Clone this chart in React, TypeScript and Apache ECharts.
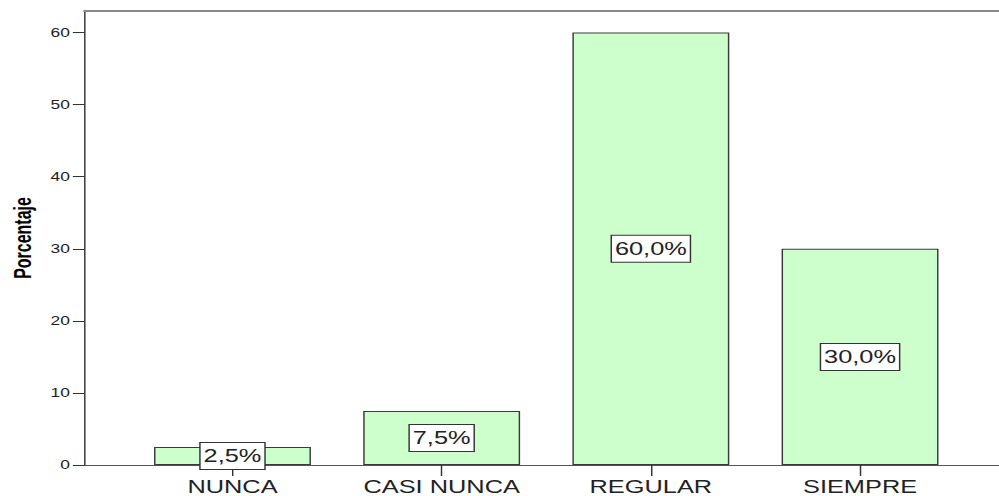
import React, { useEffect, useRef } from "react";
import * as echarts from "echarts";

const categories = ["NUNCA", "CASI NUNCA", "REGULAR", "SIEMPRE"];
const percentages = [2.5, 7.5, 60.0, 30.0];
const yTicks = [0, 10, 20, 30, 40, 50, 60];
const yMax = 63;
const yTitle = "Porcentaje";

const FULL_W = 999;
const FULL_H = 496;
const INNER_W = 689;
const STRETCH = FULL_W / INNER_W;
const FONT = "'Liberation Sans', Arial, sans-serif";

export default function App() {
  const ref = useRef<HTMLDivElement>(null);
  useEffect(() => {
    if (!ref.current) return;
    const chart = echarts.init(ref.current, null, { renderer: "svg" });
    chart.setOption({
      animation: false,
      backgroundColor: "#ffffff",
      grid: [
        { left: 56.5, right: 0, top: 11, bottom: 31, containLabel: false },
        { left: 88.2, right: 23.7, top: 11, bottom: 31, containLabel: false },
      ],
      xAxis: [
        {
          type: "value",
          gridIndex: 0,
          min: 0,
          max: 1,
          position: "bottom",
          axisLine: { show: true, lineStyle: { color: "#555", width: 1 } },
          axisTick: { show: false },
          axisLabel: { show: false },
          splitLine: { show: false },
        },
        {
          type: "value",
          gridIndex: 0,
          min: 0,
          max: 1,
          position: "top",
          axisLine: { show: true, lineStyle: { color: "#888", width: 2 } },
          axisTick: { show: false },
          axisLabel: { show: false },
          splitLine: { show: false },
        },
        {
          type: "category",
          gridIndex: 1,
          data: categories,
          position: "bottom",
          axisLine: { show: false },
          axisTick: {
            show: true,
            alignWithLabel: true,
            length: 11,
            lineStyle: { color: "#333", width: 1 },
          },
          axisLabel: {
            margin: 13,
            fontFamily: FONT,
            fontSize: 17.5,
            color: "#222",
          },
          splitLine: { show: false },
        },
      ],
      yAxis: [
        {
          type: "value",
          gridIndex: 0,
          min: 0,
          max: yMax,
          name: yTitle,
          nameLocation: "middle",
          nameGap: 31,
          nameTextStyle: {
            fontFamily: FONT,
            fontSize: 16,
            fontWeight: "bold",
            color: "#000",
          },
          axisLine: { show: true, lineStyle: { color: "#333", width: 1 } },
          axisTick: {
            show: true,
            length: 8,
            customValues: yTicks,
            lineStyle: { color: "#333", width: 1 },
          },
          axisLabel: {
            margin: 10,
            customValues: yTicks,
            fontFamily: FONT,
            fontSize: 12,
            color: "#222",
          },
          splitLine: { show: false },
        },
        {
          type: "value",
          gridIndex: 1,
          min: 0,
          max: yMax,
          show: false,
          splitLine: { show: false },
        },
      ],
      series: [
        {
          type: "bar",
          xAxisIndex: 2,
          yAxisIndex: 1,
          data: percentages,
          barWidth: "75%",
          itemStyle: {
            color: "#ccffcc",
            borderColor: "#3a3a3a",
            borderWidth: 1,
          },
          label: {
            show: true,
            position: "inside",
            formatter: (p: any) =>
              Number(p.value).toFixed(1).replace(".", ",") + "%",
            fontFamily: FONT,
            fontSize: 17.5,
            lineHeight: 20,
            color: "#222",
            backgroundColor: "#ffffff",
            borderColor: "#333",
            borderWidth: 1,
            padding: [3, 2, 3, 2],
          },
        },
      ],
    });
    return () => chart.dispose();
  }, []);

  return (
    <div
      style={{
        position: "absolute",
        left: 0,
        top: 0,
        width: FULL_W,
        height: FULL_H,
        overflow: "hidden",
        background: "#fff",
      }}
    >
      <div
        ref={ref}
        style={{
          width: INNER_W,
          height: FULL_H,
          transform: `scaleX(${STRETCH})`,
          transformOrigin: "0 0",
        }}
      />
    </div>
  );
}
